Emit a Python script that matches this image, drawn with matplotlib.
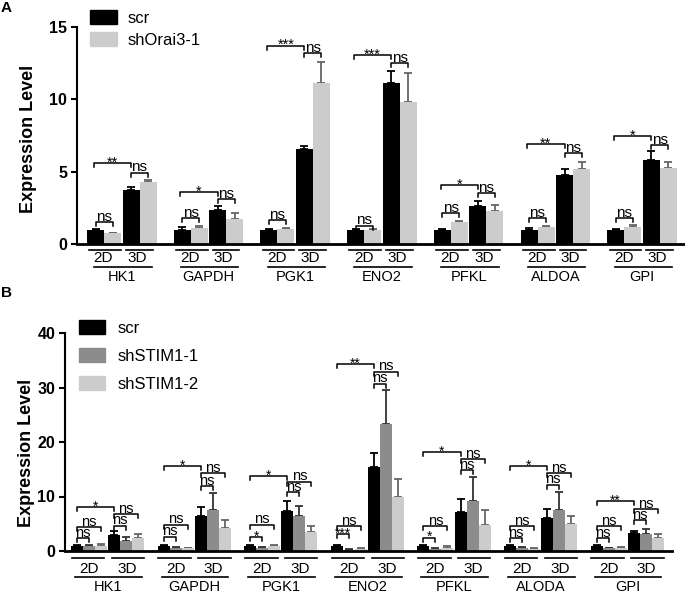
import matplotlib
matplotlib.use("Agg")
import matplotlib.pyplot as plt
from matplotlib.patches import Patch
import matplotlib.transforms as mtransforms

plt.rcParams['font.family'] = ['Liberation Sans', 'DejaVu Sans']

# ---------------- panel A data ----------------
genes_a = ["HK1", "GAPDH", "PGK1", "ENO2", "PFKL", "ALDOA", "GPI"]
scr_2d_a = [1.0, 1.0, 1.0, 1.0, 1.0, 1.0, 1.0]
scr_2d_a_err = [0.05, 0.15, 0.05, 0.05, 0.03, 0.08, 0.05]
orai_2d = [0.75, 1.1, 1.05, 0.95, 1.52, 1.17, 1.2]
orai_2d_err = [0.03, 0.15, 0.05, 0.1, 0.1, 0.05, 0.13]
scr_3d_a = [3.7, 2.35, 6.6, 11.15, 2.6, 4.76, 5.8]
scr_3d_a_err = [0.25, 0.25, 0.15, 0.8, 0.35, 0.4, 0.6]
orai_3d = [4.3, 1.7, 11.15, 9.8, 2.3, 5.2, 5.24]
orai_3d_err = [0.1, 0.45, 1.45, 2.05, 0.37, 0.5, 0.46]

a_br_2d = [1.5, 1.8, 1.63, 1.26, 2.14, 1.8, 1.8]
a_br_3d = [4.94, 3.1, 13.2, 12.5, 3.5, 6.27, 6.85]
a_br_long = [5.6, 3.6, 13.7, 13.05, 4.07, 6.9, 7.47]
a_sig_long = ["**", "*", "***", "***", "*", "**", "*"]

# ---------------- panel B data ----------------
genes_b = ["HK1", "GAPDH", "PGK1", "ENO2", "PFKL", "ALODA", "GPI"]
scr_2d_b = [1.0, 1.0, 1.0, 1.0, 1.0, 1.0, 1.0]
scr_2d_b_err = [0.05, 0.1, 0.1, 0.1, 0.1, 0.1, 0.1]
s1_2d = [0.9, 0.55, 0.55, 0.2, 0.4, 0.6, 0.5]
s1_2d_err = [0.2, 0.15, 0.15, 0.1, 0.2, 0.1, 0.1]
s2_2d = [0.9, 0.5, 0.95, 0.3, 0.5, 0.4, 0.5]
s2_2d_err = [0.4, 0.1, 0.1, 0.3, 0.4, 0.2, 0.2]
scr_3d_b = [2.95, 6.5, 7.4, 15.5, 7.2, 6.0, 3.25]
scr_3d_b_err = [0.75, 1.6, 1.8, 2.4, 2.35, 1.7, 0.45]
s1_3d = [1.9, 7.5, 6.4, 23.3, 9.1, 7.5, 3.2]
s1_3d_err = [0.6, 3.1, 1.9, 6.3, 4.5, 3.4, 0.9]
s2_3d = [2.3, 4.2, 3.4, 9.85, 4.8, 4.9, 2.45]
s2_3d_err = [0.8, 1.5, 1.2, 3.45, 2.7, 1.5, 0.6]

b_br_2d_1 = [2.3, 2.6, 2.6, 3.1, 2.45, 2.3, 2.3]
b_sig_2d_1 = ["ns", "ns", "*", "***", "*", "ns", "ns"]
b_br_2d_2 = [4.35, 4.8, 4.8, 4.6, 4.5, 4.5, 4.5]
b_br_3d_1 = [4.65, 11.9, 10.8, 30.7, 14.8, 12.2, 5.6]
b_br_3d_2 = [6.8, 14.3, 12.7, 32.9, 16.8, 14.3, 7.65]
b_br_long = [8.1, 15.6, 13.7, 34.3, 18.2, 15.6, 9.1]
b_sig_long = ["*", "*", "*", "**", "*", "*", "**"]

BLACK = "#000000"
MID = "#8c8c8c"
LIGHT = "#cccccc"

W, H = 685, 594
fig = plt.figure(figsize=(W / 100, H / 100), dpi=100)


def px_axes(left, top, right, bottom):
    return fig.add_axes([left / W, 1 - bottom / H, (right - left) / W, (bottom - top) / H])


def style_axes(ax, ymax, step):
    ax.spines["top"].set_visible(False)
    ax.spines["right"].set_visible(False)
    ax.spines["left"].set_linewidth(1.5)
    ax.spines["bottom"].set_linewidth(2)
    ax.set_ylim(0, ymax)
    ax.set_yticks(range(0, ymax + 1, step))
    ax.set_xticks([])
    ax.tick_params(axis="y", length=4, width=1.5, pad=3, labelsize=11.5)
    for t in ax.get_yticklabels():
        t.set_fontweight("bold")


def bracket(ax, x1, x2, y, label, leg, size):
    ax.plot([x1, x1, x2, x2], [y - leg, y, y, y - leg], color="black", lw=1.1,
            clip_on=False, zorder=4)
    if label.startswith("*"):
        ax.annotate(label, xy=((x1 + x2) / 2, y), xytext=(0, -2.5), textcoords="offset points",
                    ha="center", va="baseline", fontsize=size - 0.5, zorder=5)
    else:
        ax.annotate(label, xy=((x1 + x2) / 2, y), xytext=(0, 1), textcoords="offset points",
                    ha="center", va="baseline", fontsize=size, zorder=5)


def under_labels(ax, genes, gstarts, spacing, ax_h, geo):
    trans = mtransforms.blended_transform_factory(ax.transData, ax.transAxes)
    d = lambda p: p / spacing
    fy = lambda p: -p / ax_h
    for g, gs in zip(genes, gstarts):
        for (a, b) in (geo["l2d"], geo["l3d"]):
            ax.plot([gs + d(a), gs + d(b)], [fy(geo["y1"])] * 2, color="black", lw=1.2,
                    transform=trans, clip_on=False)
        ax.plot([gs + d(geo["bot"][0]), gs + d(geo["bot"][1])], [fy(geo["y2"])] * 2,
                color="black", lw=1.2, transform=trans, clip_on=False)
        ax.text(gs + d(geo["c2d"]), fy(geo["t1"]), "2D", ha="center", va="baseline",
                fontsize=11, transform=trans)
        ax.text(gs + d(geo["c3d"]), fy(geo["t1"]), "3D", ha="center", va="baseline",
                fontsize=11, transform=trans)
        ax.text(gs + d(geo["cg"]), fy(geo["t2"]), g, ha="center", va="baseline",
                fontsize=10.5, transform=trans)


# ================= Panel A =================
axA = px_axes(77, 27, 684, 244)
spA = 86.7
axA.set_xlim(0, 607 / spA)
style_axes(axA, 15, 5)
bwA = 17 / spA
gapA = 1.5 / spA
offA = 10 / spA
series_a = [(scr_2d_a, scr_2d_a_err, BLACK, BLACK),
            (orai_2d, orai_2d_err, LIGHT, "#666666"),
            (scr_3d_a, scr_3d_a_err, BLACK, BLACK),
            (orai_3d, orai_3d_err, LIGHT, "#666666")]
centers_a = []
for k, (vals, errs, col, ecol) in enumerate(series_a):
    xs = [i + offA + k * bwA + (gapA if k >= 2 else 0) + bwA / 2 for i in range(len(genes_a))]
    centers_a.append(xs)
    axA.bar(xs, vals, width=bwA, color=col, zorder=2)
    axA.errorbar(xs, vals, yerr=[[0] * len(vals), errs], fmt="none", ecolor=ecol,
                 elinewidth=1.3, capsize=3, capthick=1.3, zorder=1)

legA = 4 / 14.47
for i in range(len(genes_a)):
    bracket(axA, centers_a[0][i], centers_a[1][i], a_br_2d[i], "ns", legA, 11)
    bracket(axA, centers_a[2][i], centers_a[3][i], a_br_3d[i], "ns", legA, 11)
    bracket(axA, centers_a[0][i] - 0.02, centers_a[2][i], a_br_long[i], a_sig_long[i], legA, 11)

axA.set_ylabel("Expression Level", fontsize=13, fontweight="bold")
axA.yaxis.set_label_coords(-0.066, 0.486)
geoA = dict(l2d=(2.3, 34), l3d=(39, 65.7), bot=(7.3, 64.7), y1=6, y2=22.7,
            c2d=16.5, c3d=50, cg=35, t1=18.4, t2=37.4)
under_labels(axA, genes_a, [i + offA for i in range(len(genes_a))], spA, 217, geoA)

axA.legend([Patch(color=BLACK), Patch(color=LIGHT)], ["scr", "shOrai3-1"],
           loc="upper left", bbox_to_anchor=(90 / W, 1 - 10 / H), bbox_transform=fig.transFigure,
           frameon=False, fontsize=12, handlelength=1.62, handleheight=0.9,
           handletextpad=0.66, labelspacing=0.4, borderpad=0, borderaxespad=0)

# ================= Panel B =================
axB = px_axes(65, 333, 672, 551)
spB = 86.6
axB.set_xlim(0, 607 / spB)
style_axes(axB, 40, 10)
bwB = 12 / spB
gapB = 1.2 / spB
offB = 6 / spB
series_b = [(scr_2d_b, scr_2d_b_err, BLACK, BLACK),
            (s1_2d, s1_2d_err, MID, "#333333"),
            (s2_2d, s2_2d_err, LIGHT, "#666666"),
            (scr_3d_b, scr_3d_b_err, BLACK, BLACK),
            (s1_3d, s1_3d_err, MID, "#333333"),
            (s2_3d, s2_3d_err, LIGHT, "#666666")]
centers_b = []
for k, (vals, errs, col, ecol) in enumerate(series_b):
    xs = [i + offB + k * bwB + (gapB if k >= 3 else 0) + bwB / 2 for i in range(len(genes_b))]
    centers_b.append(xs)
    axB.bar(xs, vals, width=bwB, color=col, zorder=2)
    axB.errorbar(xs, vals, yerr=[[0] * len(vals), errs], fmt="none", ecolor=ecol,
                 elinewidth=1.3, capsize=3, capthick=1.3, zorder=1)

legB = 4 / 5.45
for i in range(len(genes_b)):
    bracket(axB, centers_b[0][i], centers_b[1][i], b_br_2d_1[i], b_sig_2d_1[i], legB, 10.5)
    bracket(axB, centers_b[0][i], centers_b[2][i], b_br_2d_2[i], "ns", legB, 10.5)
    bracket(axB, centers_b[3][i], centers_b[4][i], b_br_3d_1[i], "ns", legB, 10.5)
    bracket(axB, centers_b[3][i], centers_b[5][i], b_br_3d_2[i], "ns", legB, 10.5)
    bracket(axB, centers_b[0][i], centers_b[3][i], b_br_long[i], b_sig_long[i], legB, 10.5)

axB.set_ylabel("Expression Level", fontsize=13, fontweight="bold")
axB.yaxis.set_label_coords(-0.049, 0.452)
geoB = dict(l2d=(0.7, 33.3), l3d=(40.7, 73), bot=(4, 70.7), y1=6.6, y2=26,
            c2d=18, c3d=56, cg=37, t1=22, t2=40.3)
under_labels(axB, genes_b, [i + offB for i in range(len(genes_b))], spB, 218, geoB)

axB.legend([Patch(color=BLACK), Patch(color=MID), Patch(color=LIGHT)],
           ["scr", "shSTIM1-1", "shSTIM1-2"],
           loc="upper left", bbox_to_anchor=(79 / W, 1 - 320 / H), bbox_transform=fig.transFigure,
           frameon=False, fontsize=12, handlelength=1.55, handleheight=0.9,
           handletextpad=0.75, labelspacing=0.75, borderpad=0, borderaxespad=0)

fig.text(1 / W, 1 - 1 / H, "A", fontsize=11, fontweight="bold", ha="left", va="top")
fig.text(1 / W, 1 - 286 / H, "B", fontsize=11, fontweight="bold", ha="left", va="top")

fig.savefig("out.png", dpi=100)
